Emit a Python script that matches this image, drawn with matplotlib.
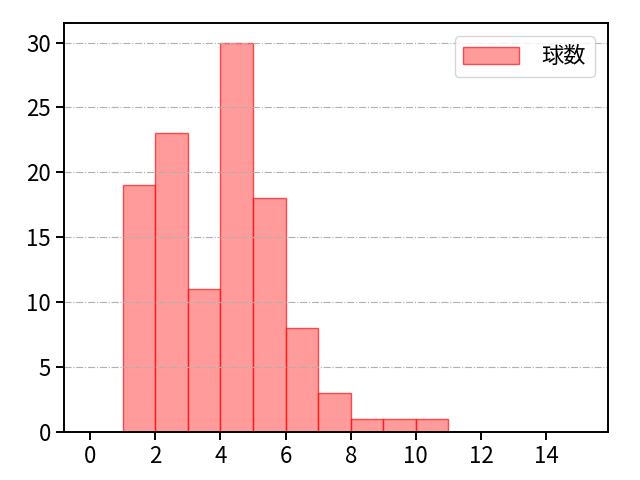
import matplotlib
matplotlib.use('Agg')
import matplotlib.pyplot as plt

plt.rcParams['font.family'] = ['Noto Sans CJK JP', 'DejaVu Sans']

# histogram bins (left edges) and counts
bin_left = [1, 2, 3, 4, 5, 6, 7, 8, 9, 10]
counts = [19, 23, 11, 30, 18, 8, 3, 1, 1, 1]
xticks = [0, 2, 4, 6, 8, 10, 12, 14]

fig, ax = plt.subplots(figsize=(6.4, 4.8), dpi=100)
fig.subplots_adjust(left=0.1, right=0.95, top=0.952, bottom=0.1)

ax.bar(bin_left, counts, width=1, align='edge', color='#ff6666', alpha=0.65,
       edgecolor='red', linewidth=1, label='球数')

ax.set_xlim(-0.8, 15.9)
ax.set_ylim(0, 31.5)
ax.set_xticks(xticks)
ax.tick_params(labelsize=16, length=6, width=1.4)
for s in ax.spines.values():
    s.set_linewidth(1.4)
# grid drawn over the bars, like the original
ax.grid(axis='y', linestyle='-.', color='#b0b0b0', linewidth=0.8)
ax.legend(loc='upper right', fontsize=16, handlelength=2.5, handletextpad=1.0,
          borderaxespad=0.6, handleheight=0.8)

plt.savefig('out.png')
